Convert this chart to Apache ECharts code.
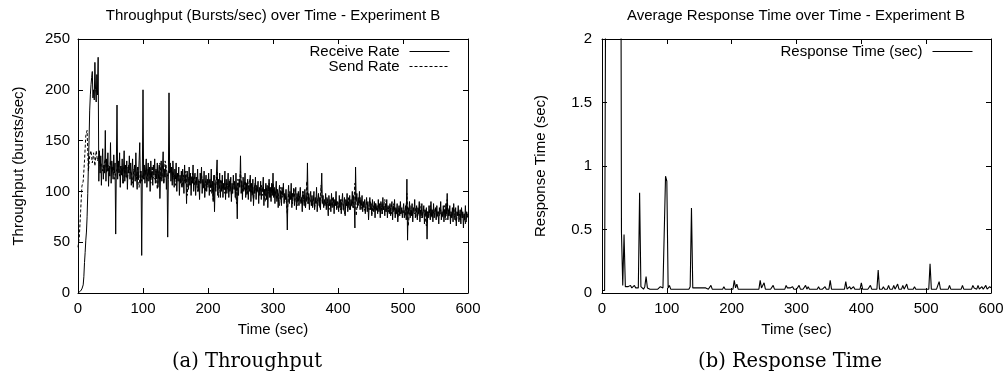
<!DOCTYPE html>
<html><head><meta charset="utf-8">
<script src="https://cdn.jsdelivr.net/npm/echarts/dist/echarts.min.js"></script>
<style>html,body{margin:0;padding:0;background:#fff}#c{width:1008px;height:378px}</style>
</head><body><div id="c"></div><script>
// sample spacing of each measurement series (seconds)
const receiveStep = 1;
const sendStep = 2;
const responseStep = 2;
const seriesNames = ['Receive Rate', 'Send Rate', 'Response Time (sec)'];
const panelTitles = ['Throughput (Bursts/sec) over Time - Experiment B', 'Average Response Time over Time - Experiment B'];
const captions = ['(a) Throughput', '(b) Response Time'];
const axisNames = ['Time (sec)', 'Throughput (bursts/sec)', 'Response Time (sec)'];

// receive rate, one value per second (t = 0..600)
const receiveRate = [
0,0,1,1,2,3,4,5,8,16,30,40,52,60,75,98,125,150,180,195,
205,212,218,192,200,190,227,200,188,215,195,232,110,140,118,135,106,128,142,112,
126,118,160,110,132,120,138,105,125,115,148,108,130,122,112,136,118,128,58,126,
185,112,130,118,138,104,125,116,132,108,122,140,110,126,114,130,102,124,118,135,
112,128,106,120,132,104,118,126,110,138,115,102,124,112,130,148,108,120,37,118,
200,112,126,108,122,132,104,118,128,110,124,100,130,114,120,106,126,116,132,108,
122,112,128,104,118,126,93,115,130,110,124,139,108,120,114,126,102,118,55,112,
197,118,128,110,124,106,130,116,104,122,112,128,100,118,110,124,96,116,108,120,
104,122,112,98,126,108,116,88,120,110,102,124,106,118,96,114,108,126,100,112,
118,96,114,106,122,100,110,92,118,108,124,98,112,104,120,94,108,116,100,112,
106,118,96,112,104,122,98,110,90,116,80,108,100,118,131,96,112,102,118,94,
110,100,116,94,108,102,120,92,112,98,106,118,94,110,100,114,90,108,98,116,
102,110,94,118,100,73,108,96,112,104,135,98,110,92,114,100,106,118,94,108,
98,112,92,106,100,116,90,108,96,112,86,104,98,114,92,106,100,110,88,104,
96,110,92,104,100,114,86,102,96,108,92,106,84,100,112,94,104,90,108,96,
118,94,104,88,100,110,90,102,84,98,106,92,100,86,104,96,108,88,98,92,
102,90,62,96,106,88,100,92,108,84,98,94,102,86,96,104,82,98,90,100,
86,96,104,88,94,80,100,92,86,102,84,96,90,128,88,98,82,94,100,86,
96,84,92,100,82,94,88,104,80,92,98,86,94,82,100,118,88,96,84,92,
86,98,82,94,88,76,96,86,92,80,98,84,90,94,78,92,86,100,82,90,
88,80,96,84,92,78,90,98,82,88,94,76,92,86,98,80,90,84,96,82,
92,86,100,84,96,88,64,124,90,98,84,94,88,100,82,92,86,96,80,90,
84,92,78,88,94,80,90,72,86,94,82,88,76,92,84,80,90,74,88,82,
86,78,92,80,88,74,90,84,78,94,82,86,76,88,80,92,74,86,82,78,
88,76,84,90,72,86,80,92,74,84,78,88,70,82,86,76,90,78,84,74,
82,88,74,80,86,72,112,52,84,78,90,74,82,76,88,70,84,80,92,74,
80,86,72,84,78,90,70,82,76,88,74,80,86,68,82,76,84,53,80,74,
86,78,72,90,76,82,70,88,74,80,84,72,86,76,80,68,84,78,90,72,
80,76,86,70,82,74,88,78,98,72,82,76,86,68,80,74,84,70,88,76,
72,84,66,80,76,86,70,78,82,68,84,74,80,64,78,72,86,70,80,76,
74
];

// send rate, one value every 2 seconds
const sendRate = [
45,55,80,105,110,130,155,160,120,135,
140,128,138,125,140,130,135,125,128,120,
125,132,118,126,115,130,120,125,112,118,
122,128,115,125,120,108,124,118,112,126,
118,120,108,122,115,112,125,104,120,110,
118,112,120,110,122,116,108,125,114,112,
120,102,116,128,112,118,108,130,122,115,
120,118,124,112,116,106,114,118,110,112,
104,116,110,120,96,114,108,106,118,110,
106,114,100,112,108,118,102,106,100,110,
104,112,100,108,92,116,104,120,94,106,
112,102,106,98,108,102,100,112,96,104,
108,100,88,112,104,120,98,106,102,110,
96,104,112,98,102,92,108,100,104,96,
100,106,96,102,90,104,98,108,94,100,
108,96,100,92,98,86,104,94,100,90,
94,78,98,92,96,88,104,90,94,86,
96,92,88,100,92,84,110,88,94,90,
86,94,84,92,88,96,84,106,88,86,
90,86,92,82,88,86,94,84,88,90,
84,90,82,92,86,78,88,84,94,82,
86,90,84,108,76,90,86,94,82,88,
84,80,90,86,82,90,78,86,82,88,
80,86,82,88,78,84,92,80,84,80,
86,78,82,88,78,82,74,84,78,82,
78,82,76,98,66,80,86,76,80,78,
84,74,80,88,74,78,82,76,66,80,
78,86,74,80,78,84,74,80,76,82,
74,80,86,72,92,76,80,74,78,84,
76,70,80,76,72,82,74,78,68,78,76
];

// average response time, one value every 2 seconds
const responseTime = [
0.02,0.02,0.02,0.02,6,6,6,6,6,6,
6,6,6,6,6,0.48,0.06,0.46,0.05,0.04,
0.05,0.04,0.06,0.04,0.05,0.06,0.04,0.05,0.04,0.79,
0.05,0.04,0.03,0.05,0.13,0.04,0.04,0.03,0.04,0.03,
0.04,0.03,0.04,0.03,0.04,0.05,0.06,0.04,0.05,0.92,
0.88,0.04,0.06,0.03,0.04,0.03,0.04,0.03,0.04,0.03,
0.04,0.03,0.04,0.03,0.04,0.03,0.04,0.03,0.05,0.67,
0.04,0.03,0.04,0.03,0.04,0.03,0.04,0.03,0.04,0.03,
0.04,0.05,0.03,0.04,0.06,0.03,0.04,0.03,0.04,0.03,
0.04,0.03,0.04,0.03,0.05,0.03,0.04,0.03,0.04,0.03,
0.04,0.03,0.10,0.04,0.07,0.03,0.04,0.03,0.04,0.03,
0.04,0.03,0.04,0.03,0.04,0.03,0.04,0.03,0.04,0.03,
0.04,0.03,0.10,0.04,0.03,0.08,0.03,0.04,0.03,0.04,
0.03,0.04,0.06,0.03,0.04,0.03,0.04,0.03,0.04,0.03,
0.04,0.03,0.06,0.04,0.03,0.04,0.03,0.05,0.03,0.04,
0.03,0.04,0.06,0.03,0.04,0.03,0.04,0.06,0.03,0.05,
0.03,0.04,0.03,0.04,0.03,0.04,0.03,0.05,0.03,0.04,
0.03,0.04,0.05,0.03,0.04,0.03,0.10,0.03,0.04,0.03,
0.04,0.03,0.04,0.03,0.04,0.03,0.04,0.03,0.09,0.03,
0.04,0.05,0.03,0.04,0.05,0.03,0.04,0.03,0.04,0.03,
0.08,0.03,0.04,0.03,0.04,0.03,0.04,0.06,0.03,0.04,
0.03,0.04,0.03,0.18,0.03,0.04,0.03,0.05,0.03,0.04,
0.03,0.06,0.03,0.04,0.03,0.06,0.03,0.04,0.07,0.03,
0.04,0.03,0.06,0.03,0.04,0.07,0.03,0.04,0.03,0.04,
0.03,0.05,0.03,0.04,0.03,0.04,0.03,0.04,0.03,0.04,
0.03,0.04,0.03,0.23,0.03,0.04,0.03,0.04,0.03,0.04,
0.09,0.03,0.04,0.03,0.04,0.03,0.04,0.03,0.06,0.03,
0.04,0.03,0.04,0.03,0.04,0.03,0.04,0.03,0.06,0.03,
0.04,0.03,0.04,0.03,0.04,0.03,0.06,0.04,0.05,0.03,
0.06,0.03,0.04,0.05,0.03,0.04,0.06,0.03,0.04,0.05,0.04
];

function pairs(arr, step) { return arr.map((v, i) => [i * step, v]); }

const FONT = '"Liberation Sans", Arial, Helvetica, sans-serif';
const SERIF = '"DejaVu Serif", "Liberation Serif", serif';
const ink = '#000';
const labelStyle = { color: ink, fontSize: 15, fontFamily: FONT };

function xAx(grid, top) {
  return {
    gridIndex: grid, type: 'value', min: 0, max: 600, interval: 100,
    position: top ? 'top' : 'bottom',
    name: top ? '' : axisNames[0], nameLocation: 'middle', nameGap: 29,
    nameTextStyle: labelStyle,
    axisLine: { show: true, onZero: false, lineStyle: { color: ink, width: 1 } },
    axisTick: { show: true, inside: true, length: 5, lineStyle: { color: ink } },
    axisLabel: Object.assign({ show: !top, margin: 8, showMinLabel: true, showMaxLabel: true }, labelStyle),
    splitLine: { show: false }
  };
}
function yAx(grid, right, max, interval, name, gap) {
  return {
    gridIndex: grid, type: 'value', min: 0, max: max, interval: interval,
    position: right ? 'right' : 'left',
    name: right ? '' : name, nameLocation: 'middle', nameGap: gap, nameRotate: 90,
    nameTextStyle: labelStyle,
    axisLine: { show: true, onZero: false, lineStyle: { color: ink, width: 1 } },
    axisTick: { show: true, inside: true, length: 5, lineStyle: { color: ink } },
    axisLabel: Object.assign({ show: !right, margin: grid === 0 ? 8 : 10, showMinLabel: true, showMaxLabel: true }, labelStyle),
    splitLine: { show: false }
  };
}
function legendFor(names, right) {
  return {
    data: names, orient: 'vertical', align: 'right', right: right, top: 39,
    itemWidth: 40, itemHeight: 10, itemGap: 0, selectedMode: false,
    itemStyle: { color: 'rgba(0,0,0,0)', borderColor: 'rgba(0,0,0,0)', borderWidth: 0, opacity: 0 },
    lineStyle: { width: 1 },
    textStyle: Object.assign({ lineHeight: 15, padding: [0, 5, 0, 0] }, labelStyle)
  };
}

const chart = echarts.init(document.getElementById('c'), null, { renderer: 'canvas' });
chart.setOption({
  animation: false,
  backgroundColor: '#fff',
  grid: [
    { left: 78, right: 540, top: 39, bottom: 85, outerBoundsMode: 'none', containLabel: false },
    { left: 602, right: 17, top: 39, bottom: 85, outerBoundsMode: 'none', containLabel: false }
  ],
  xAxis: [xAx(0, false), xAx(0, true), xAx(1, false), xAx(1, true)],
  yAxis: [
    yAx(0, false, 250, 50, axisNames[1], 52), yAx(0, true, 250, 50, '', 0),
    yAx(1, false, 2, 0.5, axisNames[2], 54), yAx(1, true, 2, 0.5, '', 0)
  ],
  legend: [legendFor([seriesNames[0], seriesNames[1]], 553), legendFor([seriesNames[2]], 30)],
  series: [
    { name: seriesNames[1], type: 'line', xAxisIndex: 0, yAxisIndex: 0, data: pairs(sendRate, sendStep),
      symbol: 'none', clip: true, lineStyle: { color: ink, width: 1, type: [3, 2] }, itemStyle: { color: ink }, z: 2 },
    { name: seriesNames[0], type: 'line', xAxisIndex: 0, yAxisIndex: 0, data: pairs(receiveRate, receiveStep),
      symbol: 'none', clip: true, lineStyle: { color: ink, width: 1 }, itemStyle: { color: ink }, z: 3 },
    { name: seriesNames[2], type: 'line', xAxisIndex: 2, yAxisIndex: 2, data: pairs(responseTime, responseStep),
      symbol: 'none', clip: true, lineStyle: { color: ink, width: 1.1 }, itemStyle: { color: ink }, z: 3 }
  ],
  graphic: [
    { type: 'text', x: 273, y: 16, style: { text: panelTitles[0], fill: ink, font: '15px ' + FONT, textAlign: 'center', textVerticalAlign: 'middle' } },
    { type: 'text', x: 796, y: 16, style: { text: panelTitles[1], fill: ink, font: '15px ' + FONT, textAlign: 'center', textVerticalAlign: 'middle' } },
    { type: 'text', x: 247, y: 362, style: { text: captions[0], fill: ink, font: '19.5px ' + SERIF, textAlign: 'center', textVerticalAlign: 'middle' } },
    { type: 'text', x: 790, y: 362, style: { text: captions[1], fill: ink, font: '19.5px ' + SERIF, textAlign: 'center', textVerticalAlign: 'middle' } }
  ]
});
</script></body></html>
